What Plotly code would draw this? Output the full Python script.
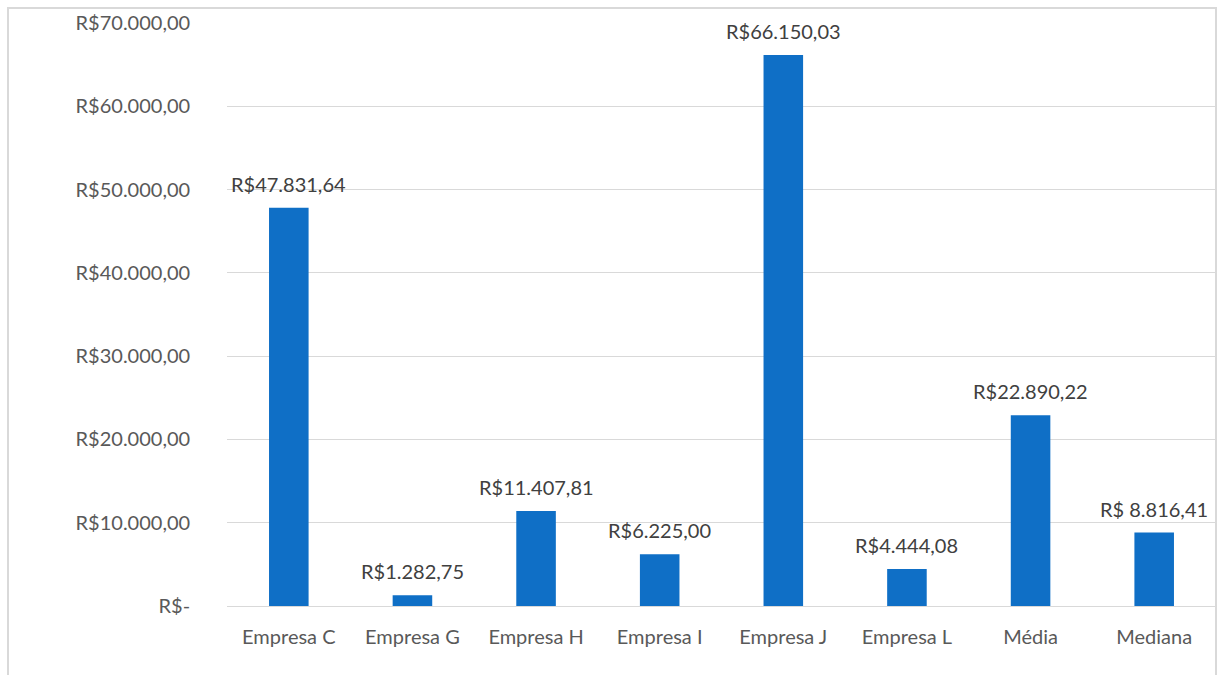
import plotly.graph_objects as go

categories = ["Empresa C", "Empresa G", "Empresa H", "Empresa I", "Empresa J",
              "Empresa L", "Média", "Mediana"]
values = [47831.64, 1282.75, 11407.81, 6225.00, 66150.03, 4444.08, 22890.22, 8816.41]
value_labels = ["R$47.831,64", "R$1.282,75", "R$11.407,81", "R$6.225,00",
                "R$66.150,03", "R$4.444,08", "R$22.890,22", "R$ 8.816,41"]
y_ticks = [0, 10000, 20000, 30000, 40000, 50000, 60000, 70000]
y_tick_labels = ["R$-", "R$10.000,00", "R$20.000,00", "R$30.000,00",
                 "R$40.000,00", "R$50.000,00", "R$60.000,00", "R$70.000,00"]

text_color = "#595959"
grid_color = "#D9D9D9"
font_family = "Lato, 'Open Sans', sans-serif"

fig = go.Figure(
    go.Bar(
        x=categories,
        y=values,
        marker=dict(color="#0F6FC6", line=dict(width=0)),
        cliponaxis=False,
    )
)

# value labels sitting a little above each bar
for cat, val, lab in zip(categories, values, value_labels):
    fig.add_annotation(
        x=cat, y=val, text=lab, showarrow=False,
        xanchor="center", yanchor="bottom", yshift=10,
        font=dict(size=20, color="#404040", family=font_family),
    )

W, H = 1217, 675
ml, mr, mt, mb = 227, 1, 23, 69
pw = W - ml - mr
ph = H - mt - mb

# keep the y labels clear of the gridlines
pad = "\u00a0" * 7

fig.update_layout(
    width=W,
    height=H,
    margin=dict(l=ml, r=mr, t=mt, b=mb),
    paper_bgcolor="white",
    plot_bgcolor="white",
    bargap=0.68,
    showlegend=False,
    font=dict(family=font_family, color=text_color, size=19),
    xaxis=dict(
        showgrid=False,
        showline=False,
        ticks="outside",
        ticklen=13,
        tickcolor="rgba(0,0,0,0)",
        tickfont=dict(size=20, color=text_color),
    ),
    yaxis=dict(
        range=[0, 70000],
        tickvals=y_ticks,
        ticktext=[t + pad for t in y_tick_labels],
        showgrid=True,
        gridcolor=grid_color,
        gridwidth=1,
        zeroline=True,
        zerolinecolor=grid_color,
        zerolinewidth=1,
        showline=False,
        ticks="",
        tickfont=dict(size=20, color=text_color),
    ),
    shapes=[
        # chart-area border
        dict(
            type="rect",
            xref="paper", yref="paper",
            x0=(8 - ml) / pw, x1=(W - 1 - ml) / pw,
            y0=-(H + 10 - mt - ph) / ph, y1=1 + (mt - 8) / ph,
            line=dict(color=grid_color, width=2),
            fillcolor="rgba(0,0,0,0)",
            layer="below",
        )
    ],
)

fig.write_html("out.html")
